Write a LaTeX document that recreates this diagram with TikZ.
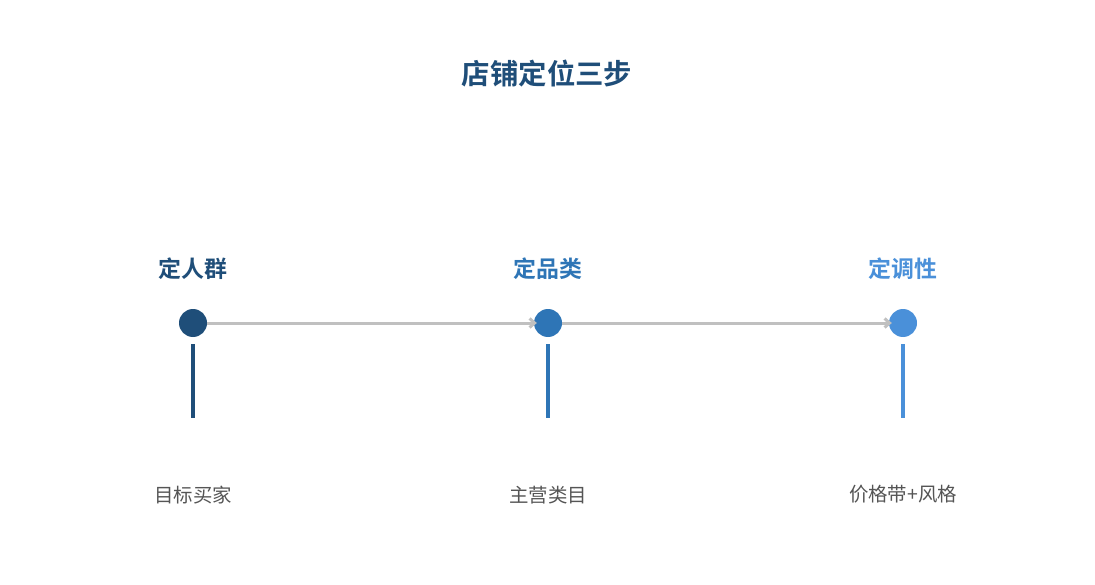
\documentclass[tikz,border=0pt]{standalone}
\usepackage{fontspec}
\setmainfont{Noto Sans CJK SC}
\newfontfamily\cjkbold{Noto Sans CJK SC Bold}
\usetikzlibrary{arrows.meta,positioning}
\definecolor{stepA}{HTML}{1F4E79}
\definecolor{stepB}{HTML}{2E75B6}
\definecolor{stepC}{HTML}{4A90D9}
\definecolor{linegray}{HTML}{C0C0C0}
\definecolor{textgray}{HTML}{555555}
\begin{document}
\begin{tikzpicture}[x=1bp,y=-1bp]

        \useasboundingbox (0,0) rectangle (1095,585);

        \node[text=stepA,font=\cjkbold\fontsize{28.5}{32}\selectfont] (title) at (547,74) {店铺定位三步};

        \begin{scope}[every node/.style={circle,inner sep=0pt,minimum size=28bp}]
          \node[fill=stepA] (1) at (193,323) {};
          \node[fill=stepB] (2) at (548,323) {};
          \node[fill=stepC] (3) at (903,323) {};
        \end{scope}

        \begin{scope}[every node/.style={font=\cjkbold\fontsize{23}{27}\selectfont}]
          \node[text=stepA] (h1) at (193,269) {定人群};
          \node[text=stepB] (h2) at (548,269) {定品类};
          \node[text=stepC] (h3) at (903,269) {定调性};
        \end{scope}

        \begin{scope}[every node/.style={text=textgray,font=\fontsize{19.5}{23}\selectfont}]
          \node (d1) at (193,495) {目标买家};
          \node (d2) at (548,495) {主营类目};
          \node (d3) at (903,494) {价格带+风格};
        \end{scope}

        \begin{scope}[every node/.style={coordinate}]
          \node (t1) at (193,344) {};
          \node (b1) at (193,418) {};
          \node (t2) at (548,344) {};
          \node (b2) at (548,418) {};
          \node (t3) at (903,344) {};
          \node (b3) at (903,418) {};
        \end{scope}

        \draw[stepA,line width=3.5bp] (t1) -- (b1);
        \draw[stepB,line width=3.5bp] (t2) -- (b2);
        \draw[stepC,line width=3.5bp] (t3) -- (b3);

        \begin{scope}[every path/.style={draw=linegray,line width=3bp,-{Straight Barb[length=5bp,width=9bp]},shorten >=-3bp}]
          \path (1) edge (2);
          \path (2) edge (3);
        \end{scope}

      \end{tikzpicture}
\end{document}
